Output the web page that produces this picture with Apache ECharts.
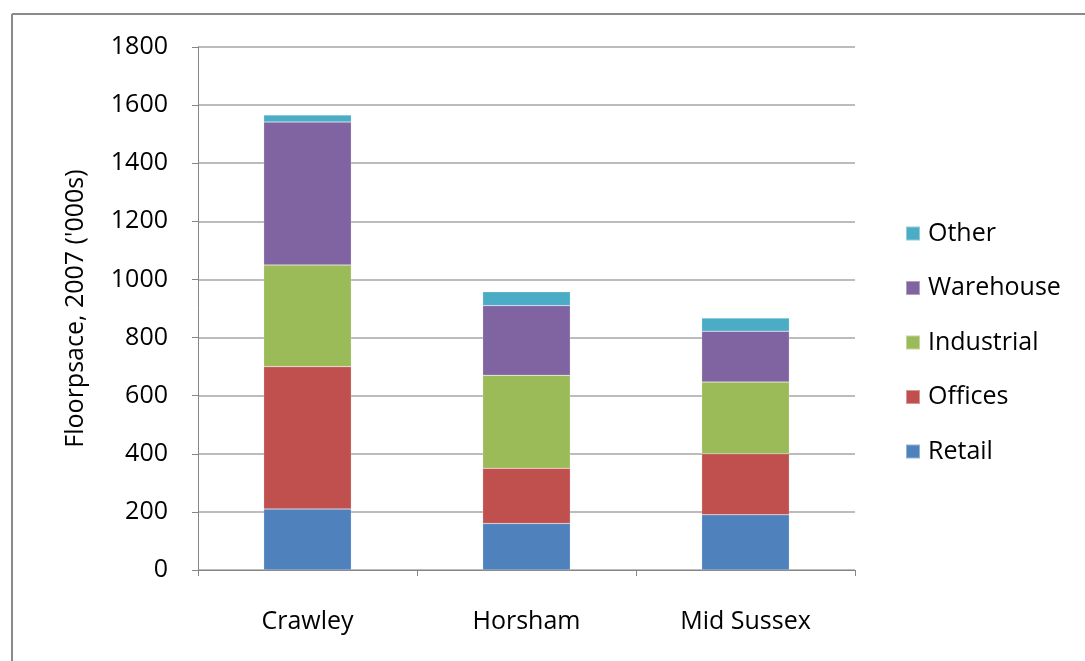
<!DOCTYPE html>
<html>
<head>
<meta charset="utf-8">
<script src="https://cdn.jsdelivr.net/npm/echarts@6/dist/echarts.min.js"></script>
<style>
  html, body { margin: 0; padding: 0; background: #fff; }
  #chart { width: 1085px; height: 661px; }
</style>
</head>
<body>
<div id="chart"></div>
<script>
// districts and floorspace ('000s) by use
var districts = ['Crawley', 'Horsham', 'Mid Sussex'];
var retail = [210, 160, 190];
var offices = [490, 190, 210];
var industrial = [350, 320, 247];
var warehouse = [492, 240, 175];
var other = [24, 48, 45];
var yTicks = [0, 200, 400, 600, 800, 1000, 1200, 1400, 1600, 1800];

var font = 'Open Sans';
var myChart = echarts.init(document.getElementById('chart'));

function bar(name, data, color) {
  return {
    name: name,
    type: 'bar',
    stack: 'all',
    barWidth: '40%',
    data: data,
    itemStyle: { color: color, borderColor: 'rgba(255,255,255,0.4)', borderWidth: 0.5 }
  };
}

var option = {
  animation: false,
  textStyle: { fontFamily: font },
  graphic: [
    { type: 'line', shape: { x1: 12, y1: 14, x2: 1085, y2: 14 }, style: { stroke: '#8a8a8a', lineWidth: 2 } },
    { type: 'line', shape: { x1: 12, y1: 14, x2: 12, y2: 661 }, style: { stroke: '#8a8a8a', lineWidth: 2 } }
  ],
  grid: { left: 198, right: 230, top: 47, bottom: 91 },
  legend: {
    orient: 'vertical',
    left: 900,
    top: 216,
    itemWidth: 14,
    itemHeight: 14,
    itemGap: 29.5,
    icon: 'rect',
    data: ['Other', 'Warehouse', 'Industrial', 'Offices', 'Retail'],
    textStyle: { fontFamily: font, fontSize: 25, color: '#000', padding: [0, 0, 0, 3] }
  },
  xAxis: {
    type: 'category',
    data: districts,
    axisLine: { lineStyle: { color: '#868686', width: 1 } },
    axisTick: { show: true, length: 6, lineStyle: { color: '#868686' } },
    axisLabel: { fontFamily: font, fontSize: 25, color: '#000', margin: 39 }
  },
  yAxis: {
    type: 'value',
    min: 0,
    max: 1800,
    interval: 200,
    name: "Floorpsace, 2007 ('000s)",
    nameLocation: 'middle',
    nameGap: 110,
    nameTextStyle: { fontFamily: font, fontSize: 25, color: '#000' },
    axisLine: { show: true, lineStyle: { color: '#868686', width: 1 } },
    axisTick: { show: true, length: 6, lineStyle: { color: '#868686' } },
    axisLabel: {
      fontFamily: font, fontSize: 25, color: '#000', margin: 30,
      formatter: function (v) { return yTicks.indexOf(v) >= 0 ? String(v) : ''; }
    },
    splitLine: { lineStyle: { color: '#a6a6a6', width: 1.5 } }
  },
  series: [
    bar('Retail', retail, '#4F81BD'),
    bar('Offices', offices, '#C0504D'),
    bar('Industrial', industrial, '#9BBB59'),
    bar('Warehouse', warehouse, '#8064A2'),
    bar('Other', other, '#4BACC6')
  ]
};

myChart.setOption(option);
</script>
</body>
</html>
